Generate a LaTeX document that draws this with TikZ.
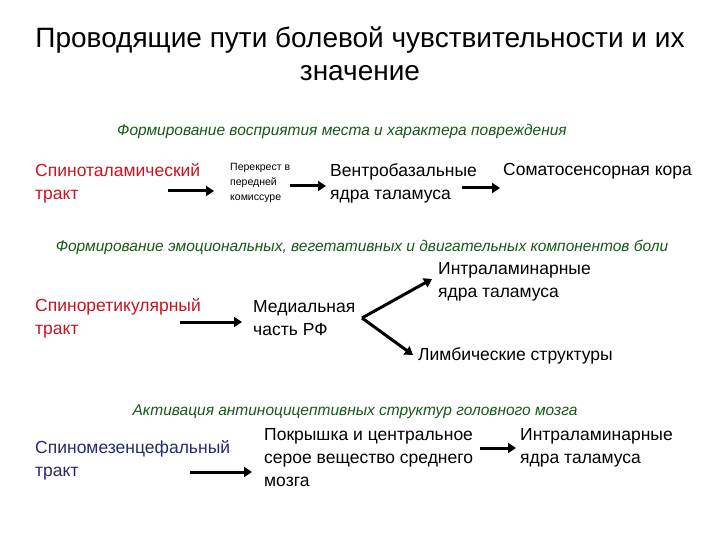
\documentclass[tikz,border=0pt]{standalone}
\usepackage{fontspec}
\setmainfont{Liberation Sans}
\usetikzlibrary{arrows.meta}
\definecolor{hgreen}{RGB}{20,90,20}
\definecolor{tred}{RGB}{200,20,30}
\definecolor{tblue}{RGB}{40,40,110}
\tikzset{
 txt/.style={anchor=north west,align=left,inner sep=0pt,font=\fontsize{17.5}{23}\selectfont},
 small/.style={anchor=north west,align=left,inner sep=0pt,font=\fontsize{10.5}{15}\selectfont},
 head/.style={inner sep=0pt,text=hgreen,font=\fontsize{15.5}{17}\selectfont\itshape},
 arr/.style={-{Triangle[length=8pt,width=10pt]},line width=3pt}
}
\begin{document}
\begin{tikzpicture}[x=1pt,y=-1pt]
\useasboundingbox (0,0) rectangle (720,540);
\node[inner sep=0pt,align=center,font=\fontsize{28}{33}\selectfont] (title) at (360,54) {Проводящие пути болевой чувствительности и их\\значение};
\node[head] (h1) at (342,131) {Формирование восприятия места и характера повреждения};
\node[txt,text=tred] (a1) at (35,163) {Спиноталамический\\тракт};
\node[small] (a2) at (230,163) {Перекрест в\\передней\\комиссуре};
\node[txt] (a3) at (330,163) {Вентробазальные\\ядра таламуса};
\node[txt] (a4) at (503,163) {Соматосенсорная кора};
\coordinate (p1) at (168,191); \coordinate (p2) at (214,191);
\coordinate (p3) at (290,186); \coordinate (p4) at (326,186);
\coordinate (p5) at (462,188); \coordinate (p6) at (500,188);
\draw[arr] (p1) -- (p2);
\draw[arr] (p3) -- (p4);
\draw[arr] (p5) -- (p6);
\node[head] (h2) at (362,247) {Формирование эмоциональных, вегетативных и двигательных компонентов боли};
\node[txt,text=tred] (b1) at (35,298) {Спиноретикулярный\\тракт};
\node[txt] (b2) at (253,300) {Медиальная\\часть РФ};
\node[txt] (b3) at (438,262) {Интраламинарные\\ядра таламуса};
\node[txt] (b4) at (418,347) {Лимбические структуры};
\coordinate (q1) at (180,322); \coordinate (q2) at (242,322);
\coordinate (q3) at (362,318); \coordinate (q4) at (432,279); \coordinate (q5) at (413,355);
\draw[arr] (q1) -- (q2);
\draw[arr] (q3) -- (q4);
\draw[arr] (q3) -- (q5);
\node[head] (h3) at (355,412) {Активация антиноцицептивных структур головного мозга};
\node[txt,text=tblue] (c1) at (35,440) {Спиномезенцефальный\\тракт};
\node[txt] (c2) at (264,428) {Покрышка и центральное\\серое вещество среднего\\мозга};
\node[txt] (c3) at (520,428) {Интраламинарные\\ядра таламуса};
\coordinate (r1) at (190,472); \coordinate (r2) at (252,472);
\coordinate (r3) at (480,448); \coordinate (r4) at (516,448);
\draw[arr] (r1) -- (r2);
\draw[arr] (r3) -- (r4);
\end{tikzpicture}
\end{document}
